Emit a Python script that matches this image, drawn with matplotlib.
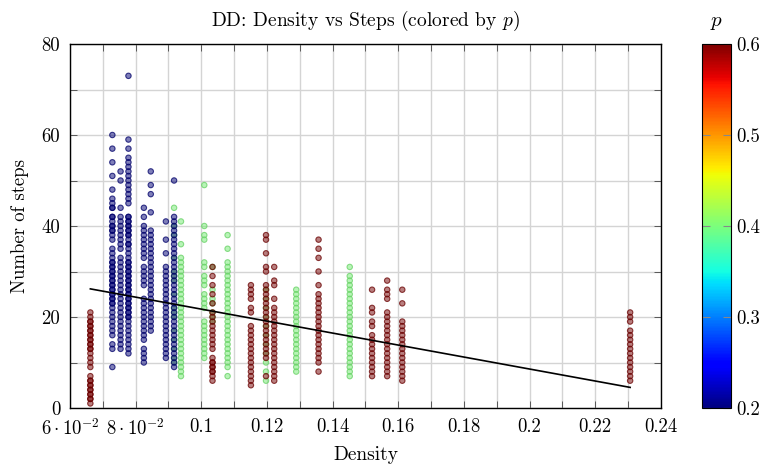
import matplotlib
matplotlib.use("Agg")
import matplotlib.pyplot as plt
import numpy as np
from matplotlib.ticker import FixedLocator, FixedFormatter, MultipleLocator

plt.rcParams['font.family'] = ['cmr10', 'DejaVu Serif']
plt.rcParams['mathtext.fontset'] = 'cm'
plt.rcParams['axes.unicode_minus'] = False
plt.rcParams['axes.formatter.use_mathtext'] = True

# ---- data: one column of runs per (density, p) ----
col_density = [0.0917, 0.0938, 0.1009, 0.1034, 0.1080, 0.1197, 0.1289, 0.1452,
               0.0729, 0.0754, 0.0778, 0.0825, 0.0846, 0.0892, 0.0917,
               0.0662, 0.1034, 0.1151, 0.1197, 0.1222, 0.1357, 0.1520, 0.1566, 0.1612, 0.2306]
col_p = [0.4, 0.4, 0.4, 0.4, 0.4, 0.4, 0.4, 0.4,
         0.2, 0.2, 0.2, 0.2, 0.2, 0.2, 0.2,
         0.6, 0.6, 0.6, 0.6, 0.6, 0.6, 0.6, 0.6, 0.6, 0.6]
col_steps = [
    [44, 40, 38, 33, 30, 29, 28, 25, 22, 21, 20, 17, 15, 13, 11, 10],
    [41, 36, 33, 32, 31, 30, 29, 28, 27, 26, 25, 24, 23, 22, 21, 20, 19, 18, 17, 16, 15, 14, 13, 12, 11, 10, 9, 8, 7],
    [49, 40, 38, 37, 32, 31, 29, 28, 27, 25, 24, 23, 22, 19, 18, 17, 16, 15, 14, 13, 12, 11],
    [31, 26, 24, 23, 21, 20, 19],
    [38, 35, 32, 31, 30, 29, 28, 27, 26, 25, 24, 23, 22, 21, 20, 19, 18, 17, 16, 15, 14, 13, 12, 11, 10, 9, 7],
    [26, 24, 22, 20, 18, 16, 14, 12, 10, 8, 6],
    [26, 25, 24, 23, 22, 21, 20, 19, 18, 17, 16, 15, 14, 13, 12, 11, 10, 9, 8],
    [31, 29, 28, 27, 26, 25, 24, 23, 22, 21, 20, 19, 18, 17, 16, 15, 14, 13, 12, 11, 10, 9, 8, 7],
    [60, 57, 54, 51, 48, 46, 45, 44, 44, 42, 42, 41, 40, 40, 39, 39, 38, 37, 35, 34, 33, 32, 32, 31, 31,
     30, 30, 29, 29, 28, 28, 27, 27, 26, 26, 25, 25, 24, 24, 23, 23, 22, 21, 20, 19, 18, 17, 16, 14, 13, 9],
    [52, 50, 44, 42, 41, 40, 39, 38, 37, 36, 35, 33, 32, 31, 30, 29, 28, 27, 26, 25, 24, 23, 22, 21,
     20, 19, 18, 17, 16, 15, 14, 13],
    [73, 59, 57, 55, 54, 53, 52, 51, 50, 49, 48, 47, 46, 45, 42, 42, 41, 41, 40, 40, 39, 39, 38, 38, 37,
     36, 36, 35, 34, 33, 32, 32, 31, 31, 30, 30, 29, 29, 28, 28, 27, 27, 26, 26, 25, 25, 24, 24, 23, 23,
     22, 22, 21, 21, 20, 20, 19, 18, 17, 16, 15, 14, 13, 12],
    [44, 42, 40, 39, 38, 37, 36, 35, 34, 33, 31, 30, 29, 28, 27, 24, 23, 22, 21, 20, 19, 18, 17, 16, 15,
     13, 12, 11, 10],
    [52, 49, 47, 43, 39, 38, 37, 36, 35, 34, 33, 32, 31, 30, 29, 28, 27, 26, 25, 24, 23, 22, 21, 20, 19, 18, 17],
    [41, 37, 34, 31, 30, 29, 28, 27, 26, 25, 24, 23, 22, 21, 20, 19, 18, 17, 16, 15, 14, 13, 12, 11],
    [50, 42, 41, 40, 39, 38, 37, 36, 35, 34, 33, 32, 31, 30, 29, 28, 27, 26, 25, 24, 23, 22, 21, 20, 19,
     18, 17, 16, 15, 14, 13, 12, 11, 10, 9],
    [1, 2, 2, 3, 3, 4, 4, 5, 5, 6, 6, 7, 9, 10, 11, 12, 13, 13, 14, 14, 15, 15, 16, 16, 17, 17, 18, 18,
     19, 19, 20, 21],
    [31, 29, 27, 25, 23, 21, 20, 19, 18, 17, 16, 15, 14, 13, 11, 10, 10, 9, 9, 8, 8, 7, 6],
    [27, 26, 25, 24, 22, 21, 18, 17, 16, 15, 14, 13, 12, 11, 10, 9, 8, 7, 6, 5],
    [38, 37, 34, 31, 30, 27, 26, 25, 24, 23, 22, 21, 20, 19, 18, 17, 16, 15, 14, 13, 12, 11, 7],
    [31, 28, 27, 24, 22, 21, 20, 19, 18, 17, 16, 15, 14, 13, 12, 11, 10, 9, 8, 7, 6],
    [37, 35, 33, 30, 27, 25, 24, 23, 22, 21, 20, 19, 18, 17, 16, 15, 14, 13, 12, 11, 10, 8],
    [26, 22, 21, 19, 18, 16, 15, 14, 13, 12, 11, 10, 9, 8, 7],
    [28, 26, 25, 24, 21, 20, 19, 18, 17, 16, 15, 14, 13, 12, 11, 10, 9, 8, 7],
    [26, 23, 19, 18, 17, 16, 15, 14, 13, 12, 11, 10, 9, 8, 7, 6],
    [21, 20, 19, 17, 16, 15, 14, 13, 12, 11, 10, 9, 8, 7, 6],
]

# linear fit
fit_slope = -131.7
fit_intercept = 34.9

x_ticks = [0.06, 0.08, 0.10, 0.12, 0.14, 0.16, 0.18, 0.20, 0.22, 0.24]
x_tick_labels = [r'$6\cdot10^{-2}$', r'$8\cdot10^{-2}$', '0.1', '0.12', '0.14', '0.16',
                 '0.18', '0.2', '0.22', '0.24']
y_ticks = [0, 20, 40, 60, 80]
y_tick_labels = ['0', '20', '40', '60', '80']
cbar_ticks = [0.2, 0.3, 0.4, 0.5, 0.6]
cbar_tick_labels = ['0.2', '0.3', '0.4', '0.5', '0.6']

# ---- build point arrays ----
xs, ys, ps = [], [], []
for d, p, steps in zip(col_density, col_p, col_steps):
    for s in steps:
        xs.append(d)
        ys.append(s)
        ps.append(p)
xs = np.array(xs); ys = np.array(ys); ps = np.array(ps)

cmap = plt.get_cmap('jet')
norm = matplotlib.colors.Normalize(vmin=0.2, vmax=0.6)
base = cmap(norm(ps))
face = base.copy(); face[:, :3] *= 0.92; face[:, 3] = 0.5
edge = base.copy(); edge[:, :3] *= 0.82; edge[:, 3] = 0.75

fig = plt.figure(figsize=(7.67, 4.68), dpi=100)
ax = fig.add_axes([70/767, 60/468, 591/767, 364/468])
cax = fig.add_axes([702/767, 60/468, 29/767, 364/468])

ax.scatter(xs, ys, s=15, facecolors=face, edgecolors=edge, linewidths=0.8, zorder=3)

fx = np.array([xs.min(), xs.max()])
ax.plot(fx, fit_intercept + fit_slope * fx, color='black', lw=1.2, zorder=4)

ax.set_xlim(0.06, 0.24)
ax.set_ylim(0, 80)
ax.xaxis.set_major_locator(FixedLocator(x_ticks))
ax.xaxis.set_major_formatter(FixedFormatter(x_tick_labels))
ax.xaxis.set_minor_locator(MultipleLocator(0.01))
ax.yaxis.set_major_locator(FixedLocator(y_ticks))
ax.yaxis.set_major_formatter(FixedFormatter(y_tick_labels))
ax.yaxis.set_minor_locator(MultipleLocator(10))
ax.grid(True, which='both', color='#d4d4d4', lw=1.0, zorder=0)
ax.set_axisbelow(True)
ax.tick_params(which='both', direction='in', top=True, right=True, color='#444444',
               labelsize=13.5)
ax.tick_params(axis='x', pad=7)
ax.tick_params(axis='y', pad=7)
ax.tick_params(which='major', length=5, width=0.6)
ax.tick_params(which='minor', length=5, width=0.6)
for sp in ax.spines.values():
    sp.set_linewidth(1.0)

ax.set_xlabel('Density', fontsize=14, labelpad=5)
ax.set_ylabel('Number of steps', fontsize=13.5, labelpad=9)
ax.set_title(r'DD: Density vs Steps (colored by $p$)', fontsize=14, pad=13)

sm = matplotlib.cm.ScalarMappable(norm=norm, cmap=cmap)
cb = fig.colorbar(sm, cax=cax)
cb.set_ticks(cbar_ticks)
cb.set_ticklabels(cbar_tick_labels)
cax.tick_params(direction='in', left=True, right=True, length=6, width=0.8,
                color='#888888', labelsize=13.5, pad=4)
cb.outline.set_linewidth(0.8)
cax.set_title(r'$p$', fontsize=15, pad=13)

fig.savefig('out.png', dpi=100)
